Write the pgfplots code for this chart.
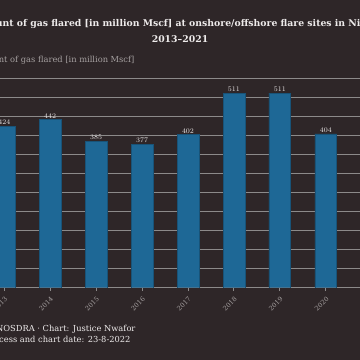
\documentclass[border=0pt]{standalone}
\usepackage{pgfplots}
\pgfplotsset{compat=1.18}
\usepackage{fontspec}
\setmainfont{DejaVu Serif}
\definecolor{bg}{RGB}{46,38,40}
\definecolor{barc}{RGB}{30,104,150}
\definecolor{gridc}{RGB}{140,138,138}
\definecolor{lab}{RGB}{165,160,160}
\definecolor{txt}{RGB}{238,235,235}
\begin{document}
\begin{tikzpicture}[x=1pt,y=1pt]
\useasboundingbox (0,0) rectangle (360,360);
\clip (0,0) rectangle (360,360);
\fill[bg] (-10,-10) rectangle (370,370);
\begin{axis}[
  at={(-41.66pt,72.3pt)}, anchor=south west,
  scale only axis, width=459.3pt, height=209.4pt,
  xmin=2012, xmax=2022, ymin=0, ymax=550,
  axis line style={draw=none},
  ytick={0,50,...,550}, yticklabels={},
  ymajorgrids, grid style={gridc, line width=1.1pt},
  xtick={2013,2014,2015,2016,2017,2018,2019,2020},
  xticklabels={2013,2014,2015,2016,2017,2018,2019,2020},
  xtick pos=bottom, tick align=outside, major tick length=3.5pt,
  xtick style={gridc, line width=0.9pt},
  ytick style={draw=none},
  x tick label style={rotate=45, anchor=north east, font=\fontsize{6.5}{7}\selectfont, color=lab},
  ybar, bar width=21.7pt,
  nodes near coords,
  nodes near coords style={font=\fontsize{7}{8}\selectfont, color=txt, inner sep=1.2pt},
]
\addplot[fill=barc, draw=barc!80!black, line width=0.4pt] coordinates {
(2013,424) (2014,442) (2015,385) (2016,377) (2017,402) (2018,511) (2019,511) (2020,404)};
\end{axis}
\node[font=\bfseries\fontsize{9.3}{11}\selectfont, color=txt, anchor=base] at (180,333.5) {Amount of gas flared [in million Mscf] at onshore/offshore flare sites in Nigeria};
\node[font=\bfseries\fontsize{9.3}{11}\selectfont, color=txt, anchor=base] at (180,318) {2013--2021};
\node[font=\fontsize{8.3}{10}\selectfont, color=lab, anchor=base east] at (138,297.5) {Amount of gas flared [in million Mscf]};
\node[font=\fontsize{8.3}{10}\selectfont, color=txt, anchor=base east] at (139,28) {Source: NOSDRA · Chart: Justice Nwafor};
\node[font=\fontsize{8.3}{10}\selectfont, color=txt, anchor=base east] at (134,17) {Access and chart date: 23-8-2022};
\end{tikzpicture}
\end{document}
